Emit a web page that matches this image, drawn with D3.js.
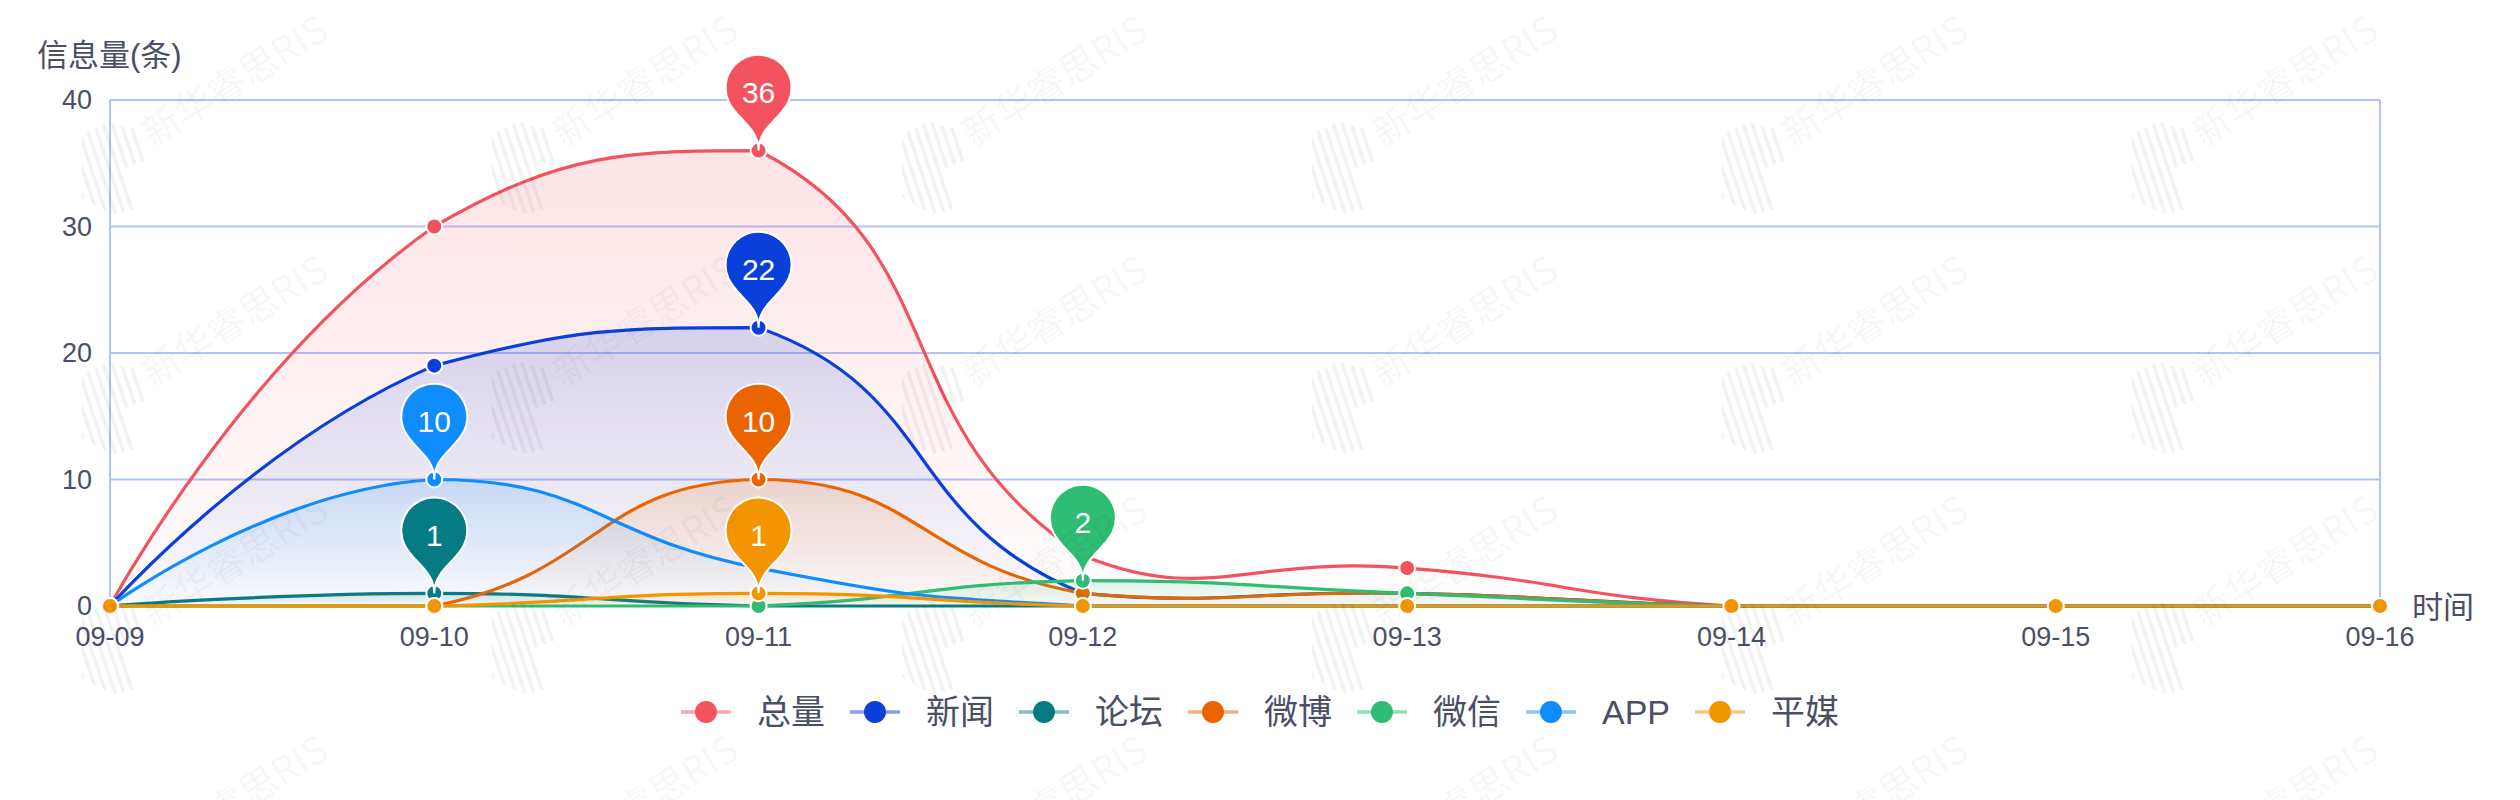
<!DOCTYPE html>
<html>
<head>
<meta charset="utf-8">
<script src="https://cdn.jsdelivr.net/npm/d3@7"></script>
<style>
html, body { margin: 0; padding: 0; background: #fff; }
svg { display: block; font-family: "Liberation Sans", "Noto Sans CJK SC", sans-serif; }
</style>
</head>
<body>
<svg width="2520" height="800"></svg>
<script>
// data
var dates = ["09-09", "09-10", "09-11", "09-12", "09-13", "09-14", "09-15", "09-16"]
var seriesNames = ["总量", "新闻", "论坛", "微博", "微信", "APP", "平媒"]
var seriesColors = ["#F3525F", "#0B3FD9", "#077B83", "#EC6400", "#2EBD72", "#0F8CFF", "#F29500"]
var totalValues = [0, 30, 36, 4, 3, 0, 0, 0]
var newsValues = [0, 19, 22, 1, 1, 0, 0, 0]
var forumValues = [0, 1, 0, 0, 0, 0, 0, 0]
var weiboValues = [0, 0, 10, 1, 1, 0, 0, 0]
var wechatValues = [0, 0, 0, 2, 1, 0, 0, 0]
var appValues = [0, 10, 3, 0, 0, 0, 0, 0]
var printValues = [0, 0, 1, 0, 0, 0, 0, 0]
var yTicks = [0, 10, 20, 30, 40]
var yTitle = "信息量(条)"
var xTitle = "时间"
var watermarkText = "新华睿思RIS"

var allValues = [totalValues, newsValues, forumValues, weiboValues, wechatValues, appValues, printValues]

var width = 2520,
    height = 800,
    plot = { left: 110, right: 2380, top: 100, bottom: 606 }
var textColor = "#4B4F66",
    gridColor = "#B2C0FB"

var svg = d3.select("svg")
var x = d3.scalePoint().domain(dates).range([plot.left, plot.right])
var y = d3.scaleLinear().domain([0, 40]).range([plot.bottom, plot.top])

// smoothing the way echarts 4 does it (smooth: 0.5, bbox constraint)
function EchartsSmooth(context) { this._context = context }
EchartsSmooth.prototype = {
    areaStart: function() { this._line = 0 },
    areaEnd: function() { this._line = NaN },
    lineStart: function() { this._pts = [] },
    point: function(px, py) { this._pts.push([+px, +py]) },
    lineEnd: function() {
        var p = this._pts, c = this._context, n = p.length, s = 0.5
        if (!n) return
        var minX = d3.min(p, d => d[0]), maxX = d3.max(p, d => d[0])
        var minY = d3.min(p, d => d[1]), maxY = d3.max(p, d => d[1])
        function clamp(q) {
            return [Math.max(minX, Math.min(maxX, q[0])), Math.max(minY, Math.min(maxY, q[1]))]
        }
        if (this._line) c.lineTo(p[0][0], p[0][1]); else c.moveTo(p[0][0], p[0][1])
        var cp0 = p[0].slice()
        for (var i = 1; i < n; i++) {
            var cur = p[i], prev = p[i - 1], next = p[i + 1], cp1, v = [0, 0], ratio = 0.5
            if (!next) {
                cp1 = cur.slice()
            } else {
                v = [next[0] - prev[0], next[1] - prev[1]]
                var lp = Math.hypot(cur[0] - prev[0], cur[1] - prev[1])
                var ln = Math.hypot(next[0] - cur[0], next[1] - cur[1])
                ratio = (ln + lp) ? ln / (ln + lp) : 0.5
                cp1 = [cur[0] - v[0] * s * (1 - ratio), cur[1] - v[1] * s * (1 - ratio)]
            }
            cp0 = clamp(cp0)
            cp1 = clamp(cp1)
            c.bezierCurveTo(cp0[0], cp0[1], cp1[0], cp1[1], cur[0], cur[1])
            cp0 = [cur[0] + v[0] * s * ratio, cur[1] + v[1] * s * ratio]
        }
        if (this._line || (this._line !== 0 && n === 1)) c.closePath()
        this._line = 1 - this._line
    }
}
function echartsSmooth(context) { return new EchartsSmooth(context) }

// grid
var grid = svg.append("g")
grid.selectAll(".hline").data(yTicks).enter().append("line")
    .attr("x1", plot.left).attr("x2", plot.right)
    .attr("y1", d => y(d)).attr("y2", d => y(d))
    .attr("stroke", gridColor).attr("stroke-width", 2)
grid.selectAll(".vline").data([plot.left, plot.right]).enter().append("line")
    .attr("x1", d => d).attr("x2", d => d)
    .attr("y1", plot.top).attr("y2", plot.bottom)
    .attr("stroke", gridColor).attr("stroke-width", 2)

// axes labels
svg.append("g").selectAll("text").data(yTicks).enter().append("text")
    .attr("x", 92).attr("y", d => y(d))
    .attr("text-anchor", "end").attr("dominant-baseline", "central")
    .attr("font-size", 27).attr("fill", textColor)
    .text(d => d)
svg.append("g").selectAll("text").data(dates).enter().append("text")
    .attr("x", d => x(d)).attr("y", 637)
    .attr("text-anchor", "middle").attr("dominant-baseline", "central")
    .attr("font-size", 27).attr("fill", textColor)
    .text(d => d)
svg.append("text").attr("x", 37).attr("y", 55)
    .attr("dominant-baseline", "central").attr("font-size", 31).attr("fill", textColor)
    .text(yTitle)
svg.append("text").attr("x", 2412).attr("y", 607)
    .attr("dominant-baseline", "central").attr("font-size", 31).attr("fill", textColor)
    .text(xTitle)

// gradients
var defs = svg.append("defs")
seriesColors.forEach(function(col, i) {
    var g = defs.append("linearGradient").attr("id", "grad" + i)
        .attr("x1", 0).attr("y1", 0).attr("x2", 0).attr("y2", 1)
    g.append("stop").attr("offset", 0).attr("stop-color", col).attr("stop-opacity", 0.16)
    g.append("stop").attr("offset", 1).attr("stop-color", col).attr("stop-opacity", 0.01)
})

var line = d3.line().x((d, i) => x(dates[i])).y(d => y(d)).curve(echartsSmooth)
var area = d3.area().x((d, i) => x(dates[i])).y0(y(0)).y1(d => y(d)).curve(echartsSmooth)

var seriesG = svg.append("g")
allValues.forEach(function(vals, i) {
    var g = seriesG.append("g")
    g.append("path").attr("d", area(vals)).attr("fill", "url(#grad" + i + ")")
    g.append("path").attr("d", line(vals)).attr("fill", "none")
        .attr("stroke", seriesColors[i]).attr("stroke-width", 3.2)
    g.selectAll("circle").data(vals).enter().append("circle")
        .attr("cx", (d, j) => x(dates[j])).attr("cy", d => y(d))
        .attr("r", 8).attr("fill", seriesColors[i])
        .attr("stroke", "#fff").attr("stroke-width", 2)
})

// pin markers at each series max
function pinPath(px, py, size) {
    var w = size / 5 * 3, h = Math.max(w, size), r = w / 2
    var dy = r * r / (h - r), cy = py - h + r + dy
    var angle = Math.asin(dy / r)
    var dx = Math.cos(angle) * r, tanX = Math.sin(angle), tanY = Math.cos(angle)
    var cpLen = r * 0.6, cpLen2 = r * 0.7
    var p = d3.path()
    p.moveTo(px - dx, cy + dy)
    p.arc(px, cy, r, Math.PI - angle, Math.PI * 2 + angle)
    p.bezierCurveTo(px + dx - tanX * cpLen, cy + dy + tanY * cpLen, px, py - cpLen2, px, py)
    p.bezierCurveTo(px, py - cpLen2, px - dx + tanX * cpLen, cy + dy + tanY * cpLen, px - dx, cy + dy)
    p.closePath()
    return p.toString()
}
var pins = svg.append("g")
allValues.forEach(function(vals, i) {
    var maxV = d3.max(vals), j = vals.indexOf(maxV)
    var px = x(dates[j]), py = y(maxV)
    pins.append("path").attr("d", pinPath(px, py, 110))
        .attr("fill", seriesColors[i]).attr("stroke", "#fff").attr("stroke-width", 2)
    pins.append("text").attr("x", px).attr("y", py - 58)
        .attr("text-anchor", "middle").attr("dominant-baseline", "central")
        .attr("font-size", 30).attr("fill", "#fff")
        .text(maxV)
})

// legend
var legend = svg.append("g")
var items = legend.selectAll("g").data(seriesNames).enter().append("g")
items.append("line").attr("x1", 0).attr("x2", 50).attr("y1", 0).attr("y2", 0)
    .attr("stroke", (d, i) => seriesColors[i]).attr("stroke-width", 3.5).attr("stroke-opacity", 0.5)
items.append("circle").attr("cx", 25).attr("cy", 0).attr("r", 11)
    .attr("fill", (d, i) => seriesColors[i])
items.append("text").attr("x", 76).attr("y", 0)
    .attr("dominant-baseline", "central").attr("font-size", 34).attr("fill", textColor)
    .text(d => d)
var pos = 0
items.each(function() {
    var w = 76 + this.querySelector("text").getComputedTextLength()
    d3.select(this).attr("data-x", pos)
    pos += w + 25
})
var total = pos - 25, startX = width / 2 - total / 2
items.attr("transform", function() { return "translate(" + (startX + +this.getAttribute("data-x")) + ",712)" })

// watermark
var wm = svg.append("g")
var wmClip = defs.append("clipPath").attr("id", "logoclip")
wmClip.append("path").attr("d", "M-30,-34 L-4,-46 L22,-40 L34,-8 L8,2 L26,40 L0,46 L-30,30 Z")
for (var j = 0; j < 4; j++) {
    for (var k = 0; k < 6; k++) {
        var t = wm.append("g").attr("transform", "translate(" + (112 + 410 * k) + "," + (168 + 240 * j) + ")")
        var logo = t.append("g").attr("clip-path", "url(#logoclip)")
        for (var s = -48; s <= 48; s += 9) {
            logo.append("line").attr("x1", s - 16).attr("y1", -48).attr("x2", s + 16).attr("y2", 48)
                .attr("stroke", "rgba(0,0,0,0.05)").attr("stroke-width", 3.5)
        }
        t.append("text").attr("transform", "translate(41,-20) rotate(-32)")
            .attr("font-size", 38).attr("fill", "rgba(0,0,0,0.045)")
            .attr("font-family", "Noto Sans CJK SC, sans-serif")
            .text(watermarkText)
    }
}
</script>
</body>
</html>
